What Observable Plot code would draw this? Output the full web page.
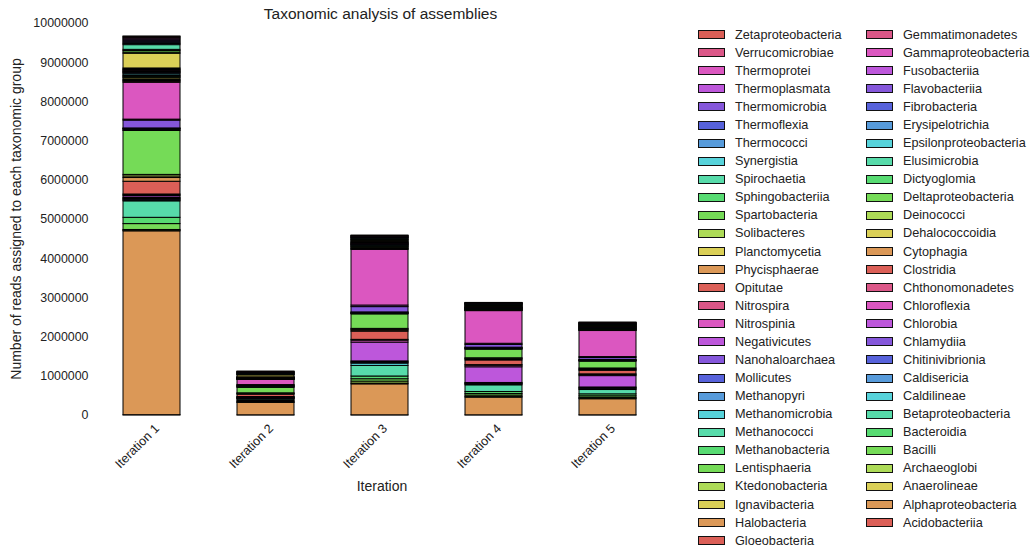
<!DOCTYPE html>
<html><head><meta charset="utf-8">
<script src="https://cdn.jsdelivr.net/npm/d3@7"></script>
<script src="https://cdn.jsdelivr.net/npm/@observablehq/plot@0.6"></script>
<style>
body{margin:0;background:#fff;font-family:"Liberation Sans",Arial,sans-serif;}
#wrap{position:relative;width:1033px;height:554px;overflow:hidden;background:#fff}
#wrap svg{position:absolute;left:0;top:0}
.t{position:absolute;color:#222;white-space:nowrap;line-height:18px}
.lg{position:absolute;font-size:12.7px;color:#222;white-space:nowrap;line-height:14px}
.sw{position:absolute;width:25px;height:7px;border:1px solid #111}
</style></head><body><div id="wrap"></div>
<script>
const iterations = ["Iteration 1","Iteration 2","Iteration 3","Iteration 4","Iteration 5"];
const taxa = ["Acidobacteriia","Alphaproteobacteria","Anaerolineae","Archaeoglobi","Bacilli","Bacteroidia","Betaproteobacteria","Caldilineae","Caldisericia","Chitinivibrionia","Chlamydiia","Chlorobia","Chloroflexia","Chthonomonadetes","Clostridia","Cytophagia","Dehalococcoidia","Deinococci","Deltaproteobacteria","Dictyoglomia","Elusimicrobia","Epsilonproteobacteria","Erysipelotrichia","Fibrobacteria","Flavobacteriia","Fusobacteriia","Gammaproteobacteria","Gemmatimonadetes","Gloeobacteria","Halobacteria","Ignavibacteria","Ktedonobacteria","Lentisphaeria","Methanobacteria","Methanococci","Methanomicrobia","Methanopyri","Mollicutes","Nanohaloarchaea","Negativicutes","Nitrospinia","Nitrospira","Opitutae","Phycisphaerae","Planctomycetia","Solibacteres","Spartobacteria","Sphingobacteriia","Spirochaetia","Synergistia","Thermococci","Thermoflexia","Thermomicrobia","Thermoplasmata","Thermoprotei","Verrucomicrobiae","Zetaproteobacteria"];
const palette = ["#db5f57","#db9857","#dbd057","#addb57","#75db57","#57db72","#57dbaa","#57d3db","#579bdb","#5762db","#8557db","#bd57db","#db57c0","#db5788"];
const yTicks = [0,1000000,2000000,3000000,4000000,5000000,6000000,7000000,8000000,9000000,10000000];

const iter1 = [8000,4690000,15000,20000,150000,160000,420000,20000,20000,20000,25000,45000,25000,20000,325000,95000,40000,40000,1120000,15000,20000,10000,10000,10000,200000,25000,940000,25000,20000,25000,40000,20000,20000,20000,20000,40000,15000,15000,15000,20000,15000,15000,20000,20000,375000,30000,40000,30000,120000,30000,30000,30000,30000,30000,30000,30000,10000];
const iter2 = [5000,315000,10000,10000,20000,25000,30000,8000,8000,8000,8000,8000,8000,8000,60000,15000,10000,10000,140000,10000,10000,10000,10000,10000,10000,10000,130000,4000,4000,4000,4000,4000,4000,4000,4000,4000,4000,4000,4000,4000,4000,4000,4000,4000,50000,8000,8000,8000,8000,8000,8000,8000,8000,8000,8000,8000,8000];
const iter3 = [5000,790000,20000,50000,60000,70000,270000,60000,20000,15000,20000,480000,50000,20000,210000,30000,20000,20000,370000,10000,10000,10000,10000,10000,135000,40000,1420000,10000,10000,15000,20000,10000,15000,10000,15000,10000,10000,10000,10000,10000,10000,10000,15000,10000,30000,10000,15000,10000,20000,10000,10000,10000,10000,10000,10000,10000,10000];
const iter4 = [5000,450000,20000,35000,40000,50000,170000,20000,15000,10000,15000,400000,40000,15000,120000,25000,15000,15000,220000,10000,10000,10000,10000,10000,70000,30000,833000,6000,6000,6000,10000,6000,6000,6000,6000,6000,6000,6000,6000,6000,6000,6000,6000,6000,25000,6000,6000,6000,12000,6000,6000,6000,6000,6000,6000,6000,6000];
const iter5 = [5000,410000,15000,20000,40000,50000,110000,20000,15000,15000,15000,290000,30000,15000,90000,20000,20000,20000,175000,8000,8000,8000,8000,8000,50000,25000,665000,7000,7000,7000,8000,7000,7000,7000,7000,7000,7000,7000,7000,7000,7000,7000,7000,7000,10000,7000,7000,7000,8000,7000,7000,7000,7000,7000,7000,7000,7000];

const series = [iter1, iter2, iter3, iter4, iter5];
const rows = [];
iterations.forEach((it, j) => taxa.forEach((tx, i) => rows.push({iteration: it, taxon: tx, value: series[j][i]})));
const colors = taxa.map((d, i) => palette[i % palette.length]);

const chart = Plot.plot({
  width: 1033, height: 554,
  marginTop: 23, marginBottom: 139, marginLeft: 91, marginRight: 340,
  style: {fontFamily: "'Liberation Sans', Arial, sans-serif", fontSize: "12.4px", color: "#222", background: "transparent", overflow: "visible"},
  x: {domain: iterations, range: [66, 693], padding: 0.5, label: null},
  y: {domain: [0, 10000000], label: null},
  color: {domain: taxa, range: colors},
  marks: [
    Plot.axisY({ticks: yTicks, tickSize: 0, tickPadding: 3, tickFormat: d3.format("d"), label: null}),
    Plot.axisX({tickRotate: -45, tickSize: 0, tickPadding: 11, dx: 5, fontSize: 12.6, label: null}),
    Plot.barY(rows, {x: "iteration", y: "value", fill: "taxon", stroke: "black", strokeWidth: 1})
  ]
});
const wrap = document.getElementById("wrap");
wrap.appendChild(chart);

function addText(txt, css) {
  const d = document.createElement("div");
  d.className = "t"; d.textContent = txt; Object.assign(d.style, css); wrap.appendChild(d); return d;
}
addText("Taxonomic analysis of assemblies", {left: "380.5px", top: "5px", fontSize: "15.5px", transform: "translateX(-50%)"});
addText("Iteration", {left: "382px", top: "477px", fontSize: "14px", transform: "translateX(-50%)"});
addText("Number of reads assigned to each taxonomic group", {left: "16px", top: "219px", fontSize: "14px", transform: "translate(-50%,-50%) rotate(-90deg)"});

const rev = taxa.map((d, i) => i).reverse();
const col1 = rev.slice(0, 29), col2 = rev.slice(29);
[[col1, 698, 735], [col2, 866, 903]].forEach(([col, sx, tx]) => {
  col.forEach((idx, k) => {
    const cy = 34.7 + 18.07 * k;
    const s = document.createElement("div");
    s.className = "sw"; s.style.left = sx + "px"; s.style.top = (cy - 4.5) + "px"; s.style.background = colors[idx];
    wrap.appendChild(s);
    const l = document.createElement("div");
    l.className = "lg"; l.textContent = taxa[idx]; l.style.left = tx + "px"; l.style.top = (cy - 7) + "px";
    wrap.appendChild(l);
  });
});
</script></body></html>
